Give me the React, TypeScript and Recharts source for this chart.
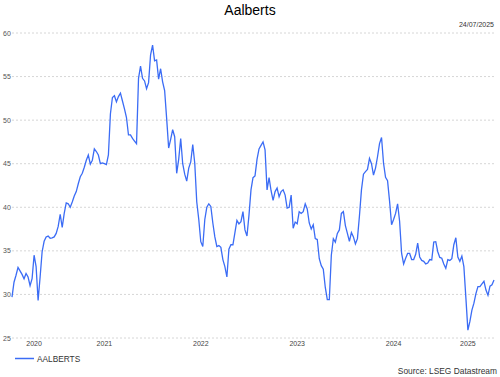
import React from 'react';
import { LineChart, Line, XAxis, YAxis, CartesianGrid } from 'recharts';

// weekly-ish closing prices, 24/07/2020 -> 24/07/2025
const prices = [
  29.7, 31.4, 32.2, 33.1, 32.7, 32.3, 31.8, 32.4, 32.0, 31.0,
  31.8, 34.5, 33.2, 29.3, 32.0, 34.9, 36.1, 36.6, 36.7, 36.45,
  36.5, 36.6, 37.0, 37.8, 39.2, 37.7, 39.3, 40.5, 40.4, 40.0,
  40.6, 41.3, 41.8, 42.7, 43.5, 43.9, 44.6, 45.4, 46.0, 44.95,
  45.4, 46.7, 46.4, 46.0, 45.0, 45.1, 45.0, 44.9, 46.0, 50.7,
  52.6, 52.8, 52.1, 52.7, 53.1, 52.2, 51.3, 50.3, 48.3, 48.3,
  47.9, 47.6, 47.3, 54.8, 56.2, 54.8, 54.5, 53.6, 54.3, 57.5,
  58.6, 56.8, 56.9, 54.7, 55.9, 54.4, 53.4, 50.2, 46.8, 47.8,
  48.9, 48.1, 43.9, 45.5, 47.9, 45.0, 43.8, 43.0, 44.5, 45.2,
  47.2, 45.05, 40.6, 38.6, 36.05, 35.5, 38.6, 40.0, 40.4, 40.1,
  38.2, 36.6, 35.5, 35.6, 35.4, 34.0, 33.2, 32.0, 35.2, 35.7,
  35.7, 37.1, 38.5, 38.1, 38.35, 39.5, 37.4, 36.7, 39.1, 42.0,
  43.4, 43.6, 45.5, 46.7, 47.1, 47.5, 46.6, 42.0, 43.4, 41.9,
  40.8, 41.8, 42.2, 41.2, 41.8, 42.0, 41.4, 39.9, 40.0, 41.4,
  37.6, 38.3, 38.1, 39.5, 39.3, 39.5, 40.4, 39.8, 38.2, 37.5,
  38.0, 36.4, 36.3, 34.1, 33.3, 32.9, 30.8, 29.4, 29.4, 34.5,
  36.4, 36.0, 37.0, 37.4, 39.3, 39.5, 37.9, 37.0, 36.1, 37.1,
  36.6, 35.8, 36.4, 39.0, 42.0, 43.8, 44.1, 44.35, 45.6, 45.0,
  43.7, 44.5, 45.8, 47.3, 48.0, 45.05, 43.45, 43.05, 40.7, 38.0,
  38.6, 39.3, 40.4, 38.4, 34.7, 33.5, 34.15, 34.7, 34.7, 34.0,
  34.0, 34.6, 35.9, 34.3, 33.9, 33.8, 33.5, 33.6, 34.0, 33.95,
  36.0, 36.05, 34.9, 34.25, 34.15, 33.5, 33.0, 34.0, 33.9, 34.1,
  35.7, 36.5, 34.3, 33.8, 34.4, 33.2, 29.6, 25.9, 26.9, 28.2,
  29.0, 30.1, 30.9, 30.9, 31.2, 31.5, 30.5, 29.9, 30.95, 31.1,
  31.65,
];

const startDay = Date.UTC(2020, 6, 24);
const endDay = Date.UTC(2025, 6, 24);
const dates = prices.map((_, i) =>
  new Date(startDay + ((endDay - startDay) * i) / (prices.length - 1)).toISOString().slice(0, 10)
);

// where the year labels sit (point index)
const yearTickIdx = [11, 46, 94, 142, 190, 227];
const yTicks = [25, 30, 35, 40, 45, 50, 55, 60];

const seriesName = 'AALBERTS';
const lineColor = '#3b6cf5';
const font = '"Liberation Sans", Arial, sans-serif';

const data = prices.map((v, i) => ({ date: dates[i], value: v }));

const YTick = (props: any) => {
  const { y, payload } = props;
  return (
    <text x={3} y={y} dy={2.5} fontSize={7} fill="#555" fontFamily={font}>
      {payload.value}
    </text>
  );
};

export default function App() {
  return (
    <div style={{ position: 'fixed', left: 0, top: 0, width: 500, height: 377, background: '#fff' }}>
      <LineChart width={500} height={377} data={data} margin={{ top: 33, right: 6, bottom: 0, left: 0 }}>
        <CartesianGrid vertical={false} stroke="#d6d6d6" strokeDasharray="2 2" />
        <YAxis
          width={12}
          domain={[25, 60]}
          ticks={yTicks}
          axisLine={false}
          tickLine={false}
          tick={<YTick />}
        />
        <XAxis
          dataKey="date"
          ticks={yearTickIdx.map(i => dates[i])}
          interval={0}
          tickFormatter={(d: string) => d.slice(0, 4)}
          axisLine={false}
          tickLine={false}
          tickSize={0}
          tickMargin={3}
          height={39}
          tick={{ fontSize: 7, fill: '#444', fontFamily: font }}
        />
        <Line
          type="linear"
          dataKey="value"
          name={seriesName}
          stroke={lineColor}
          strokeWidth={1.3}
          dot={false}
          isAnimationActive={false}
        />
      </LineChart>
      <svg width={500} height={377} style={{ position: 'absolute', left: 0, top: 0, pointerEvents: 'none' }}>
        <text x={250} y={15} textAnchor="middle" fontSize={14} fill="#000" fontFamily={font}>Aalberts</text>
        <text x={494} y={27} textAnchor="end" fontSize={7} fill="#333" fontFamily={font}>24/07/2025</text>
        <line x1={15} x2={34} y1={358.5} y2={358.5} stroke={lineColor} strokeWidth={1.5} />
        <text x={37} y={361.5} fontSize={8.3} fill="#333" fontFamily={font}>{seriesName}</text>
        <text x={497} y={374} textAnchor="end" fontSize={8.4} fill="#333" fontFamily={font}>Source: LSEG Datastream</text>
      </svg>
    </div>
  );
}
